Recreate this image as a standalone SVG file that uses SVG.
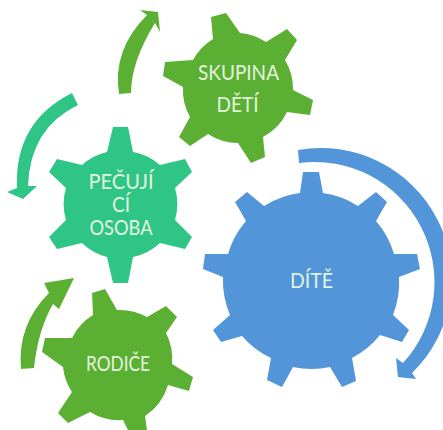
<svg xmlns="http://www.w3.org/2000/svg" width="443" height="430" viewBox="0 0 443 430">
<style>
.g{fill:#5bb033}.t{fill:#2fc586}.b{fill:#5295d9}
text{font-family:"Lato","Noto Sans",sans-serif;font-size:21px;fill:#e4f3df;text-anchor:middle}
</style>
<rect width="443" height="430" fill="#fff"/>
<g id="connectors">
<path class="g" d="M119 94Q112 50 147 15L140 10 158 12 160 32 155 23Q131 62 131 93Z"/>
<path class="t" d="M72 93Q14 122 17 188L7 192 23 199 37 186 28 186Q30 128 78 105Z"/>
<path class="g" d="M21 369Q17 325 49 293L44 283 74 278 59 309 53 304Q38 330 34 368Z"/>
<path class="b" d="M298 150A131 131 0 0 1 412 373L416 379 398 377 396 358 403 363A120 120 0 0 0 299 163Z"/>
</g>
<g id="skupina">
<path class="g" d="M211 17L226 13 240 33A55 55 0 0 1 266 42L287 29 297 40 285 60A55 55 0 0 1 293 90L313 100 310 115 287 112A55 55 0 0 1 263 137L265 157 251 163 238 143A55 55 0 0 1 208 134L190 146 179 137 190 117A55 55 0 0 1 183 87L163 76 165 62 193 60A55 55 0 0 1 213 39Z"/>
<text x="238.500" y="80" textLength="81" lengthAdjust="spacingAndGlyphs">SKUPINA</text><text x="237.500" y="112" textLength="42" lengthAdjust="spacingAndGlyphs">DĚTÍ</text>
</g>
<g id="pecujici">
<path class="t" d="M113 127H128L133 152A56 56 0 0 1 160 165L185 159 192 172 175 188A56 56 0 0 1 175 220L192 237 185 249 160 243A56 56 0 0 1 133 257L128 283H113L107 257A56 56 0 0 1 82 243L57 249 49 237 66 220A56 56 0 0 1 66 188L49 172 57 159 82 165A56 56 0 0 1 107 152Z"/>
<text x="121" y="189" textLength="65" lengthAdjust="spacingAndGlyphs">PEČUJÍ</text><text x="121" y="212" textLength="18" lengthAdjust="spacingAndGlyphs">CÍ</text><text x="121" y="235" textLength="63" lengthAdjust="spacingAndGlyphs">OSOBA</text>
</g>
<g id="rodice">
<path class="g" d="M92 293L105 289 117 310A56 56 0 0 1 147 317L166 306 177 317 166 333A56 56 0 0 1 172 364L193 377 189 391 168 385A56 56 0 0 1 145 416L147 430H128L123 420A56 56 0 0 1 90 412L68 423 58 413 72 392A56 56 0 0 1 63 367L42 352 45 338 72 338A56 56 0 0 1 93 315Z"/>
<text x="118" y="371" textLength="64" lengthAdjust="spacingAndGlyphs">RODIČE</text>
</g>
<g id="dite">
<path class="b" d="M303 172H319L323 193A88 88 0 0 1 358 206L376 192 387 202 376 221A88 88 0 0 1 394 254H417L420 269 399 277A88 88 0 0 1 393 315L409 330 402 342 380 335A88 88 0 0 1 352 358L356 381 342 387 330 367A88 88 0 0 1 293 367L282 387 267 380 271 358A88 88 0 0 1 242 336L221 342 213 330 230 315A88 88 0 0 1 223 277L203 269 205 254H228A88 88 0 0 1 246 221L235 202 247 192 264 206A88 88 0 0 1 300 193Z"/>
<text x="311.500" y="288" textLength="43" lengthAdjust="spacingAndGlyphs">DÍTĚ</text>
</g>
</svg>
